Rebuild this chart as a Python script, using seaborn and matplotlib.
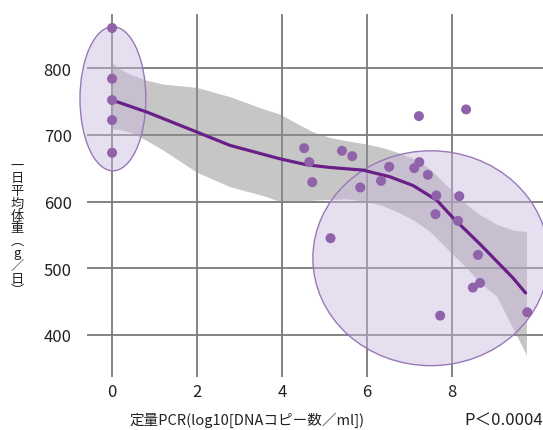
import matplotlib
matplotlib.use("Agg")
import matplotlib.pyplot as plt
from matplotlib.patches import Ellipse
import pandas as pd
import seaborn as sns

# values
pcr = [0, 0, 0, 0, 0,
       4.52, 4.64, 4.71, 5.41, 5.65, 5.14, 5.84, 6.33, 6.52, 7.22,
       7.23, 7.11, 7.43, 7.63, 7.61, 8.17, 8.14, 8.33, 8.61, 8.49,
       8.66, 7.72, 9.77]
weight = [860, 784, 752, 722, 673,
          680, 659, 629, 676, 668, 545, 621, 631, 652, 728,
          659, 650, 640, 609, 581, 608, 571, 738, 520, 471,
          478, 429, 434]

# smoothed fit line and its band
fit_x = [0, 0.82, 2.0, 2.78, 3.95, 4.58, 5.13, 5.91, 6.54, 7.08, 7.64, 8.03, 8.66, 9.44, 9.73]
fit_y = [752, 734, 704, 684, 664, 655, 651, 647, 637, 624, 602, 575, 536, 485, 463]

band_x = [0, 0.15, 0.42, 0.8, 1.2, 1.99, 2.78, 3.55, 3.95, 4.35, 4.74, 5.13, 5.52, 5.99, 6.35, 6.7,
          7.1, 7.48, 8.03, 8.35, 8.66, 9.05, 9.44, 9.75]
band_hi = [808, 800, 791, 782, 776, 771, 757, 739, 731, 717, 704, 696, 691, 686, 681, 674,
           664, 649, 614, 595, 580, 566, 557, 555]
band_lo = [709, 708, 704, 692, 677, 644, 622, 609, 600, 600, 602, 603, 604, 600, 594, 585,
           572, 555, 520, 500, 478, 458, 409, 370]

xticks = [0, 2, 4, 6, 8]
yticks = [400, 500, 600, 700, 800]

sns.set_theme(style="white")
plt.rcParams['font.family'] = ['Noto Sans CJK JP', 'DejaVu Sans']

fig = plt.figure(figsize=(5.43, 4.31), dpi=100)
ax = fig.add_axes([87 / 543, 53 / 431, 456 / 543, 363 / 431])

df = pd.DataFrame({"pcr": pcr, "weight": weight})
fit = pd.DataFrame({"x": fit_x, "y": fit_y})

ax.fill_between(band_x, band_lo, band_hi, color="#8f8f8f", alpha=0.5, lw=0, zorder=2)

for cx, cy, w, h in [(0.02, 754, 1.55, 216), (7.5, 515, 5.55, 322)]:
    ax.add_patch(Ellipse((cx, cy), w, h, facecolor="#c9b8dd", alpha=0.45,
                         edgecolor="none", zorder=3, clip_on=False))
    ax.add_patch(Ellipse((cx, cy), w, h, facecolor="none",
                         edgecolor="#9a78b8", lw=1.0, zorder=3, clip_on=False))

sns.lineplot(data=fit, x="x", y="y", color="#6a1f88", lw=2.3, ax=ax, zorder=4)
sns.scatterplot(data=df, x="pcr", y="weight", color="#9062aa", s=52,
                edgecolor="none", ax=ax, zorder=5)

ax.set_xlim(-0.59, 10.14)
ax.set_ylim(337, 881)
ax.set_xticks(xticks)
ax.set_yticks(yticks)
ax.grid(True, color="#7a7a7a", lw=1.3)
ax.set_axisbelow(True)
for s in ax.spines.values():
    s.set_visible(False)
ax.tick_params(length=0, labelsize=12, colors="#222222")
ax.tick_params(axis="y", pad=11)
ax.tick_params(axis="x", pad=4)
ax.set_xlabel("")
ax.set_ylabel("")

fig.text(247 / 543, 1 - 420 / 431, "定量PCR(log10[DNAコピー数／ml])",
         ha="center", va="center", fontsize=10.5, color="#222222")
fig.text(1.0, 1 - 420 / 431, "P＜0.0004", ha="right", va="center",
         fontsize=12, color="#222222")
ylab = "\n".join(list("一日平均体重︵g／日︶"))
fig.text(17 / 543, 1 - 229 / 431, ylab, ha="center", va="center",
         fontsize=9.5, linespacing=0.95, color="#222222")

fig.savefig("out.png", dpi=100)
